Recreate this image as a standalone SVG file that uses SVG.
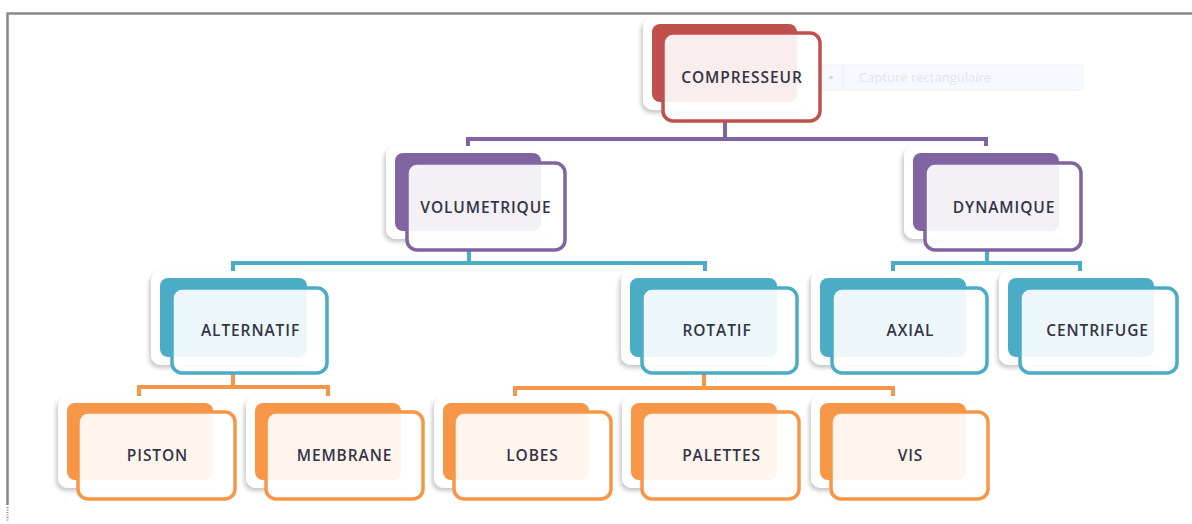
<svg xmlns="http://www.w3.org/2000/svg" width="1192" height="524" viewBox="0 0 1192 524">
<defs>
<filter id="sh" x="-20%" y="-20%" width="140%" height="150%">
<feDropShadow dx="-2" dy="3" stdDeviation="2.2" flood-color="#000" flood-opacity="0.22"/>
</filter>
</defs>
<style>
.halo{fill:#fff;filter:url(#sh)}
.f{fill:#fff;fill-opacity:.9;stroke-width:3.5}
.red .b{fill:#C0504D}.red .f{stroke:#C0504D}
.pur .b{fill:#8064A2}.pur .f{stroke:#8064A2}
.tea .b{fill:#4BACC6}.tea .f{stroke:#4BACC6}
.ora .b{fill:#F79646}.ora .f{stroke:#F79646}
.t{font-family:"Open Sans","Liberation Sans",sans-serif;font-size:15.5px;font-weight:600;letter-spacing:0.9px;fill:#343447;text-anchor:middle}
.c{fill:none;stroke-width:4;stroke-linecap:square}
</style>
<rect width="1192" height="524" fill="#fff"/>
<g id="frame" fill="none" stroke="#888" stroke-width="2.5">
<path d="M7.5 505V13.5H1192"/>
<path d="M7.5 507V522" stroke-dasharray="1 1.5" stroke-width="2"/>
</g>
<g id="capture">
<rect x="822" y="65" width="261" height="25" fill="#F6FAFE" stroke="#EDF3FA"/>
<line x1="843" y1="66" x2="843" y2="89" stroke="#E6EEF7"/>
<circle cx="831" cy="77.5" r="2" fill="#D8DCE2"/>
<text x="859" y="82" font-family="'Open Sans','Liberation Sans',sans-serif" font-size="13px" fill="#E2E5EA">Capture rectangulaire</text>
</g>
<g id="connectors">
<path class="c" stroke="#8064A2" d="M725 121V139M468 147V139H986V147"/>
<path class="c" stroke="#4BACC6" d="M469 250V263M233 270V263H705V270M987 250V263M893 270V263H1080V270"/>
<path class="c" stroke="#F79646" d="M233 373V387M139 395V387H328V395M704 373V388M515 395V388H893V395"/>
</g>
<g id="compresseur" class="red">
<rect class="halo" x="643" y="17" width="164" height="93" rx="10"/>
<rect class="b" x="652" y="24" width="145" height="78" rx="8"/>
<rect class="f" x="663" y="33" width="157" height="88" rx="10"/>
<text class="t" x="742" y="83">COMPRESSEUR</text>
</g>
<g id="volumetrique" class="pur">
<rect class="halo" x="386" y="146" width="164" height="93" rx="10"/>
<rect class="b" x="395" y="153" width="146" height="78" rx="8"/>
<rect class="f" x="407" y="163" width="158" height="87" rx="10"/>
<text class="t" x="486" y="212.5">VOLUMETRIQUE</text>
</g>
<g id="dynamique" class="pur">
<rect class="halo" x="904" y="146" width="164" height="93" rx="10"/>
<rect class="b" x="913" y="153" width="146" height="78" rx="8"/>
<rect class="f" x="925" y="163" width="156" height="87" rx="10"/>
<text class="t" x="1004" y="212.5">DYNAMIQUE</text>
</g>
<g id="alternatif" class="tea">
<rect class="halo" x="151" y="271" width="164" height="94" rx="10"/>
<rect class="b" x="160" y="278" width="147" height="79" rx="8"/>
<rect class="f" x="172" y="288" width="155" height="85" rx="10"/>
<text class="t" x="250.5" y="335.5">ALTERNATIF</text>
</g>
<g id="rotatif" class="tea">
<rect class="halo" x="621" y="271" width="164" height="94" rx="10"/>
<rect class="b" x="630" y="278" width="147" height="79" rx="8"/>
<rect class="f" x="642" y="288" width="155" height="85" rx="10"/>
<text class="t" x="717" y="335.5">ROTATIF</text>
</g>
<g id="axial" class="tea">
<rect class="halo" x="811" y="271" width="164" height="94" rx="10"/>
<rect class="b" x="820" y="278" width="146" height="79" rx="8"/>
<rect class="f" x="832" y="288" width="155" height="85" rx="10"/>
<text class="t" x="910.5" y="335.5">AXIAL</text>
</g>
<g id="centrifuge" class="tea">
<rect class="halo" x="999" y="271" width="164" height="94" rx="10"/>
<rect class="b" x="1008" y="278" width="146" height="79" rx="8"/>
<rect class="f" x="1020" y="288" width="157" height="85" rx="10"/>
<text class="t" x="1097.5" y="335.5">CENTRIFUGE</text>
</g>
<g id="piston" class="ora">
<rect class="halo" x="58" y="396" width="164" height="92" rx="10"/>
<rect class="b" x="67" y="403" width="146" height="77" rx="8"/>
<rect class="f" x="78" y="412" width="157" height="87" rx="10"/>
<text class="t" x="157.5" y="460.5">PISTON</text>
</g>
<g id="membrane" class="ora">
<rect class="halo" x="246" y="396" width="164" height="92" rx="10"/>
<rect class="b" x="255" y="403" width="146" height="77" rx="8"/>
<rect class="f" x="266" y="412" width="157" height="87" rx="10"/>
<text class="t" x="344.5" y="460.5">MEMBRANE</text>
</g>
<g id="lobes" class="ora">
<rect class="halo" x="434" y="396" width="164" height="92" rx="10"/>
<rect class="b" x="443" y="403" width="146" height="77" rx="8"/>
<rect class="f" x="454" y="412" width="157" height="87" rx="10"/>
<text class="t" x="532.5" y="460.5">LOBES</text>
</g>
<g id="palettes" class="ora">
<rect class="halo" x="622" y="396" width="164" height="92" rx="10"/>
<rect class="b" x="631" y="403" width="146" height="77" rx="8"/>
<rect class="f" x="642" y="412" width="157" height="87" rx="10"/>
<text class="t" x="721.5" y="460.5">PALETTES</text>
</g>
<g id="vis" class="ora">
<rect class="halo" x="811" y="396" width="164" height="92" rx="10"/>
<rect class="b" x="820" y="403" width="146" height="77" rx="8"/>
<rect class="f" x="831" y="412" width="157" height="87" rx="10"/>
<text class="t" x="910.5" y="460.5">VIS</text>
</g>
</svg>
